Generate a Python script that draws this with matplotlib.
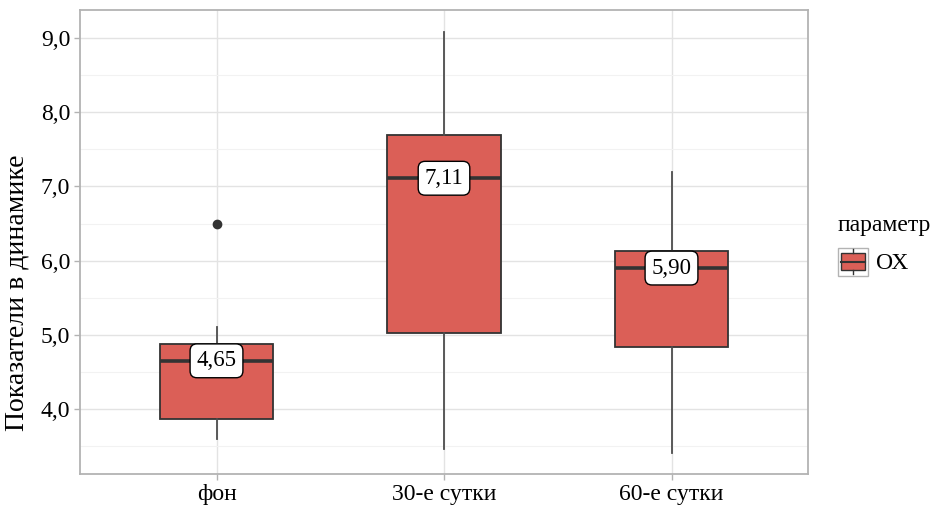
"""
Boxplot of the OX parameter over time (background, day 30, day 60)
"""

import matplotlib.pyplot as plt
from matplotlib.patches import Rectangle
from matplotlib.lines import Line2D
from matplotlib.legend_handler import HandlerBase
from matplotlib.ticker import MultipleLocator, FuncFormatter

plt.rcParams['font.family'] = ['Liberation Serif', 'DejaVu Serif']

# summary statistics per time point
categories = ['фон', '30-е сутки', '60-е сутки']
q1 = [3.86, 5.02, 4.83]
medians = [4.65, 7.11, 5.90]
q3 = [4.87, 7.69, 6.13]
whisker_low = [3.60, 3.46, 3.41]
whisker_high = [5.10, 9.08, 7.19]
outliers = [[6.50], [], []]
median_labels = ['4,65', '7,11', '5,90']

FILL = '#DB5F57'
EDGE = '#333333'

stats = []
for i, name in enumerate(categories):
    stats.append(dict(label=name, q1=q1[i], med=medians[i], q3=q3[i],
                      whislo=whisker_low[i], whishi=whisker_high[i],
                      fliers=outliers[i]))

fig = plt.figure(figsize=(9.3, 5.07), dpi=100)
ax = fig.add_axes([80 / 930, 33 / 507, 728 / 930, 464 / 507])

positions = [1, 2, 3]
ax.bxp(stats, positions=positions, widths=0.5, patch_artist=True,
       showcaps=False,
       boxprops=dict(facecolor=FILL, edgecolor=EDGE, linewidth=1.3),
       medianprops=dict(color=EDGE, linewidth=2.6, solid_capstyle='butt'),
       whiskerprops=dict(color='#4D4D4D', linewidth=1.3),
       flierprops=dict(marker='o', markerfacecolor=EDGE, markeredgecolor=EDGE,
                       markersize=6))

# median value labels
for x, m, txt in zip(positions, medians, median_labels):
    ax.text(x, m, txt, ha='center', va='center', fontsize=16.5, zorder=5,
            bbox=dict(boxstyle='round,pad=0.28,rounding_size=0.3',
                      facecolor='white', edgecolor='black', linewidth=1.0))

ax.set_xlim(0.4, 3.6)
ax.set_ylim(3.125, 9.377)
ax.yaxis.set_major_locator(MultipleLocator(1.0))
ax.yaxis.set_minor_locator(MultipleLocator(0.5))
ax.yaxis.set_major_formatter(FuncFormatter(lambda v, p: f'{v:.1f}'.replace('.', ',')))
ax.set_xticks(positions)
ax.set_xticklabels(categories)

ax.set_axisbelow(True)
ax.grid(True, which='major', color='#E3E3E3', linewidth=1.0)
ax.grid(True, which='minor', axis='y', color='#F2F2F2', linewidth=0.8)
for side in ax.spines.values():
    side.set_color('#B3B3B3')
    side.set_linewidth(1.3)
ax.tick_params(axis='both', which='major', colors='#B3B3B3', length=4,
               width=1.0, labelsize=17, labelcolor='black', pad=3)
ax.tick_params(axis='y', which='minor', length=0)
ax.set_ylabel('Показатели в динамике', fontsize=20)
ax.yaxis.set_label_coords(-0.069, 0.39)


class BoxKey(HandlerBase):
    def create_artists(self, legend, orig_handle, xdescent, ydescent,
                       width, height, fontsize, trans):
        w, h = width, height
        x0, y0 = -xdescent, -ydescent
        frame = Rectangle((x0, y0), w, h, facecolor='white',
                          edgecolor='#B3B3B3', linewidth=1.0, transform=trans)
        box = Rectangle((x0 + 0.12 * w, y0 + 0.2 * h), 0.76 * w, 0.6 * h,
                        facecolor=FILL, edgecolor=EDGE, linewidth=1.0,
                        transform=trans)
        cx = x0 + w / 2
        wl = Line2D([cx, cx], [y0 + 0.05 * h, y0 + 0.2 * h],
                    color=EDGE, linewidth=1.0, transform=trans)
        wh = Line2D([cx, cx], [y0 + 0.8 * h, y0 + 0.95 * h],
                    color=EDGE, linewidth=1.0, transform=trans)
        med = Line2D([x0 + 0.12 * w, x0 + 0.88 * w], [y0 + 0.5 * h] * 2,
                     color=EDGE, linewidth=1.5, transform=trans)
        return [frame, box, wl, wh, med]


leg = fig.legend([Rectangle((0, 0), 1, 1)], ['ОХ'], handler_map={Rectangle: BoxKey()},
                 title='параметр', loc='upper left',
                 bbox_to_anchor=(833 / 930, 1 - 210 / 507), frameon=False,
                 fontsize=17, title_fontsize=17, handlelength=1.3,
                 handleheight=1.45, handletextpad=0.3, borderpad=0.2,
                 borderaxespad=0.0)
leg._legend_box.align = 'left'

fig.savefig('out.png', dpi=100)
